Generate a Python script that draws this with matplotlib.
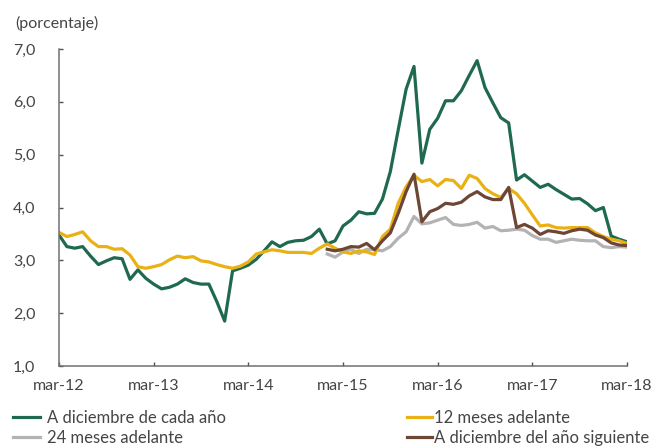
import numpy as np
import matplotlib
matplotlib.use("Agg")
import matplotlib.pyplot as plt
from matplotlib.lines import Line2D

plt.rcParams['font.family'] = ['Lato', 'DejaVu Sans']

# meses desde mar-12 hasta mar-18
n_meses = 73
tick_labels = ['mar-12', 'mar-13', 'mar-14', 'mar-15', 'mar-16', 'mar-17', 'mar-18']

dic_cada_anio = [3.48, 3.26, 3.23, 3.26, 3.08, 2.92, 2.99, 3.05, 3.03, 2.64,
                 2.82, 2.66, 2.55, 2.46, 2.49, 2.55, 2.65, 2.58, 2.55, 2.55,
                 2.22, 1.85, 2.80, 2.85, 2.91, 3.02, 3.18, 3.35, 3.26, 3.34,
                 3.37, 3.38, 3.45, 3.59, 3.31, 3.37, 3.65, 3.76, 3.92, 3.88,
                 3.89, 4.16, 4.68, 5.47, 6.24, 6.67, 4.84, 5.48, 5.69, 6.02,
                 6.02, 6.21, 6.50, 6.78, 6.27, 5.98, 5.70, 5.60, 4.52, 4.62,
                 4.50, 4.38, 4.44, 4.34, 4.25, 4.16, 4.17, 4.07, 3.94, 4.00,
                 3.46, 3.40, 3.35]

doce_meses = [3.53, 3.45, 3.49, 3.54, 3.37, 3.26, 3.26, 3.21, 3.22, 3.10,
              2.88, 2.85, 2.88, 2.92, 3.01, 3.08, 3.05, 3.07, 2.99, 2.97,
              2.92, 2.88, 2.85, 2.89, 2.97, 3.12, 3.16, 3.20, 3.18, 3.15,
              3.15, 3.15, 3.13, 3.23, 3.31, 3.23, 3.16, 3.13, 3.18, 3.16,
              3.11, 3.45, 3.59, 4.08, 4.39, 4.61, 4.49, 4.53, 4.41, 4.53,
              4.51, 4.36, 4.61, 4.55, 4.36, 4.26, 4.19, 4.36, 4.26, 4.08,
              3.86, 3.65, 3.67, 3.62, 3.61, 3.62, 3.62, 3.62, 3.52, 3.45,
              3.40, 3.37, 3.32]

# desde ene-15 (indice 34)
inicio = 34
veinticuatro_meses = [3.12, 3.06, 3.16, 3.21, 3.13, 3.21, 3.20, 3.18, 3.26, 3.42,
                      3.54, 3.83, 3.69, 3.71, 3.76, 3.81, 3.68, 3.66, 3.68, 3.72,
                      3.61, 3.64, 3.56, 3.57, 3.59, 3.57, 3.47, 3.40, 3.40, 3.34,
                      3.37, 3.40, 3.38, 3.37, 3.37, 3.26, 3.24, 3.26, 3.25]

dic_anio_sig = [3.21, 3.18, 3.21, 3.26, 3.25, 3.32, 3.20, 3.37, 3.52, 3.89,
                4.30, 4.63, 3.73, 3.92, 3.98, 4.08, 4.06, 4.10, 4.22, 4.30,
                4.20, 4.15, 4.15, 4.38, 3.62, 3.68, 3.61, 3.49, 3.56, 3.54,
                3.51, 3.56, 3.59, 3.57, 3.48, 3.43, 3.33, 3.29, 3.28]

c_verde = '#1f6a4f'
c_amarillo = '#e9b114'
c_gris = '#b3b3b3'
c_cafe = '#6e4636'
c_texto = '#454545'

x = np.arange(n_meses)
x2 = np.arange(inicio, inicio + len(dic_anio_sig))

fig = plt.figure(figsize=(6.54, 4.47), dpi=100)
ax = fig.add_axes([59/654, 1 - 366/447, (627 - 59)/654, (366 - 49)/447])

lw = 2.3
ax.plot(x, dic_cada_anio, color=c_verde, lw=lw, label='A diciembre de cada año')
ax.plot(x2, veinticuatro_meses, color=c_gris, lw=lw, label='24 meses adelante')
ax.plot(x, doce_meses, color=c_amarillo, lw=lw, label='12 meses adelante')
ax.plot(x2, dic_anio_sig, color=c_cafe, lw=lw, label='A diciembre del año siguiente')

ax.set_xlim(0, n_meses - 1)
ax.set_ylim(1, 7)
ax.set_xticks(np.arange(0, n_meses, 12))
ax.set_xticklabels(tick_labels)
ax.set_yticks(np.arange(1, 7.5, 1))
ax.set_yticklabels([f'{v:.1f}'.replace('.', ',') for v in np.arange(1, 7.5, 1)])

for s in ['top', 'right']:
    ax.spines[s].set_visible(False)
for s in ['left', 'bottom']:
    ax.spines[s].set_color('#707070')
    ax.spines[s].set_linewidth(1.1)
ax.tick_params(axis='both', direction='in', length=3, width=1, color='#505050',
               labelcolor=c_texto, labelsize=11.5)
ax.tick_params(axis='y', pad=17)
ax.tick_params(axis='x', pad=9)

fig.text(15/654, 1 - 23/447, '(porcentaje)', fontsize=11.5, color=c_texto,
         ha='left', va='center')

h1 = [Line2D([], [], color=c_verde, lw=lw), Line2D([], [], color=c_gris, lw=lw)]
h2 = [Line2D([], [], color=c_amarillo, lw=lw), Line2D([], [], color=c_cafe, lw=lw)]
leg1 = fig.legend(h1, ['A diciembre de cada año', '24 meses adelante'],
                  loc='upper left', bbox_to_anchor=(13/654, 1 - 410/447),
                  frameon=False, fontsize=12, handlelength=1.6, handletextpad=0.45,
                  borderpad=0, borderaxespad=0, labelspacing=0.22, labelcolor=c_texto)
leg2 = fig.legend(h2, ['12 meses adelante', 'A diciembre del año siguiente'],
                  loc='upper left', bbox_to_anchor=(407/654, 1 - 410/447),
                  frameon=False, fontsize=12, handlelength=1.5, handletextpad=0.1,
                  borderpad=0, borderaxespad=0, labelspacing=0.22, labelcolor=c_texto)

fig.savefig('out.png', dpi=100)
